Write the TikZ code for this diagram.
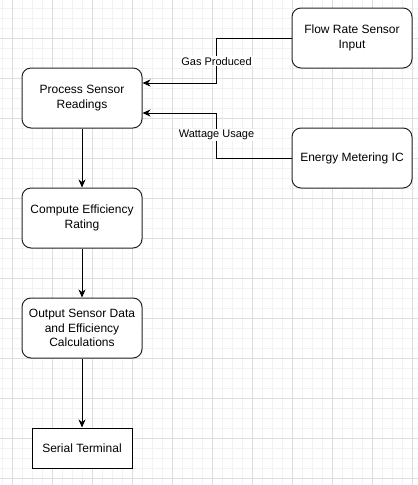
\documentclass[tikz,border=0pt]{standalone}
\usepackage{fontspec}
\setmainfont{Liberation Sans}
\usetikzlibrary{arrows.meta,calc}
\begin{document}
\begin{tikzpicture}[x=1pt,y=-1pt,
  box/.style={draw=black!85, line width=1pt, rounded corners=9pt, fill=white,
    minimum width=120pt, minimum height=60pt, inner sep=0pt, align=center,
    font=\fontsize{12}{14.4}\selectfont},
  termbox/.style={draw=black, line width=1pt, fill=white,
    minimum width=100pt, minimum height=40pt, inner sep=0pt, align=center,
    font=\fontsize{12}{14.4}\selectfont},
  arr/.style={draw=black, line width=1pt, -{Stealth[length=8pt,width=7pt,inset=2.5pt]}},
  lbl/.style={fill=white, inner sep=1pt, font=\fontsize{11}{13}\selectfont},
  minorgrid/.style={draw=black!5, line width=0.8pt},
  majorgrid/.style={draw=black!13, line width=0.9pt}]
\useasboundingbox (0,0) rectangle (418,485);
\fill[white] (0,0) rectangle (418,485);
% grid
\foreach \gx in {2,12,...,412} {\draw[minorgrid] (\gx,0) -- (\gx,485);}
\foreach \gy in {8,18,...,478} {\draw[minorgrid] (0,\gy) -- (418,\gy);}
\foreach \gx in {12,52,...,412} {\draw[majorgrid] (\gx,0) -- (\gx,485);}
\foreach \gy in {38,78,...,478} {\draw[majorgrid] (0,\gy) -- (418,\gy);}
% nodes
\node[box] (process) at (82,98) {Process Sensor\\Readings};
\node[box] (flow) at (352,38) {Flow Rate Sensor\\Input};
\node[box] (energy) at (352,158) {Energy Metering IC};
\node[box] (compute) at (82,218) {Compute Efficiency\\Rating};
\node[box] (output) at (82,328) {Output Sensor Data\\and Efficiency\\Calculations};
\node[termbox] (serial) at (82,448) {Serial Terminal};
% connectors
\draw[arr] (flow.west) -- ++(-75,0) |- node[lbl,pos=0.26] {Gas Produced} ([yshift=15pt]process.east);
\draw[arr] (energy.west) -- ++(-75,0) |- node[lbl,pos=0.26] {Wattage Usage} ([yshift=-15pt]process.east);
\draw[arr] (process) -- (compute);
\draw[arr] (compute) -- (output);
\draw[arr] (output) -- (serial);
\end{tikzpicture}
\end{document}
